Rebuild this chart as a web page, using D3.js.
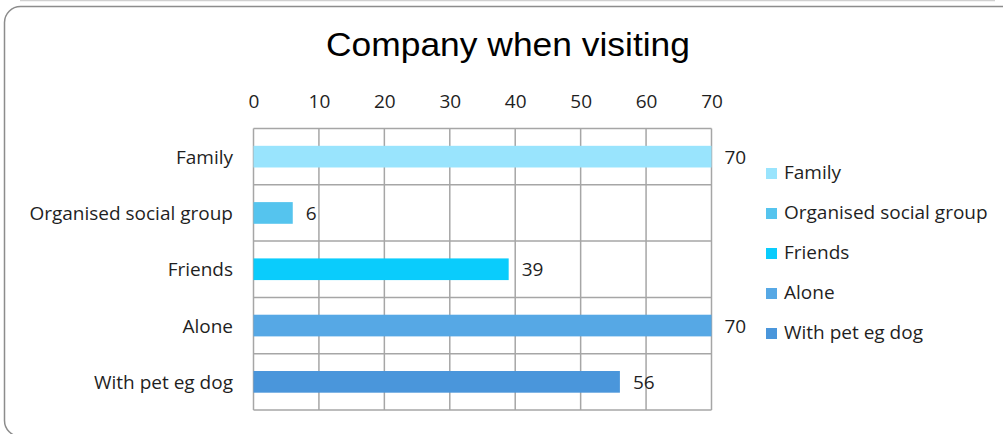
<!DOCTYPE html>
<html>
<head>
<meta charset="utf-8">
<script src="https://cdn.jsdelivr.net/npm/d3@7"></script>
<style>
  html, body { margin: 0; padding: 0; background: #fff; }
  svg { display: block; }
</style>
</head>
<body>
<script>
// Chart data
const categories = ["Family", "Organised social group", "Friends", "Alone", "With pet eg dog"];
const values = [70, 6, 39, 70, 56];
const colors = ["#99e4fd", "#55c4ee", "#0accfc", "#56a8e5", "#4a96db"];
const tickValues = [0, 10, 20, 30, 40, 50, 60, 70];
const title = "Company when visiting";

const W = 1003, H = 434;
const labelFont = "'Open Sans', 'Noto Sans', sans-serif";
const labelSize = 19;
const textColor = "#1f1f1f";

const svg = d3.select("body").append("svg")
  .attr("width", W).attr("height", H);

// Outer frame
svg.append("line")
  .attr("x1", 20).attr("x2", 995).attr("y1", 0.5).attr("y2", 0.5)
  .attr("stroke", "#d0d0d0").attr("stroke-width", 1.5);
svg.append("rect")
  .attr("x", 4.5).attr("y", 6.5).attr("width", 1015).attr("height", 430)
  .attr("rx", 16).attr("ry", 16)
  .attr("fill", "#fff").attr("stroke", "#8c8c8c").attr("stroke-width", 1.5);

// Title
svg.append("text")
  .attr("x", 508).attr("y", 56)
  .attr("text-anchor", "middle")
  .attr("font-family", "'Liberation Sans', Arial, sans-serif")
  .attr("font-size", 33)
  .attr("textLength", 364)
  .attr("lengthAdjust", "spacingAndGlyphs")
  .attr("fill", "#000")
  .text(title);

// Plot area
const plot = { left: 253.5, right: 711.5, top: 128.5, bottom: 410 };

const x = d3.scaleLinear().domain([0, 70]).range([plot.left, plot.right]);
const y = d3.scaleBand().domain(categories).range([plot.top, plot.bottom])
  .paddingInner(0).paddingOuter(0);
const barFrac = 0.385;

const g = svg.append("g");

// Horizontal row separators
const rowEdges = categories.map(c => y(c)).concat([plot.bottom]);
g.selectAll("line.row").data(rowEdges).join("line")
  .attr("class", "row")
  .attr("x1", plot.left).attr("x2", plot.right)
  .attr("y1", d => d).attr("y2", d => d)
  .attr("stroke", "#a6a6a6").attr("stroke-width", 1.5);

// Vertical gridlines
g.selectAll("line.col").data(tickValues).join("line")
  .attr("class", "col")
  .attr("x1", d => x(d)).attr("x2", d => x(d))
  .attr("y1", plot.top).attr("y2", plot.bottom)
  .attr("stroke", "#a6a6a6").attr("stroke-width", 1.5);

// Bars
const bw = y.bandwidth() * barFrac;
g.selectAll("rect.bar").data(categories).join("rect")
  .attr("class", "bar")
  .attr("x", x(0))
  .attr("y", d => y(d) + (y.bandwidth() - bw) / 2)
  .attr("width", (d, i) => x(values[i]) - x(0))
  .attr("height", bw)
  .attr("fill", (d, i) => colors[i]);

// Value labels
g.selectAll("text.val").data(categories).join("text")
  .attr("class", "val")
  .attr("x", (d, i) => x(values[i]) + 13)
  .attr("y", d => y(d) + y.bandwidth() / 2 + 7)
  .attr("font-family", labelFont).attr("font-size", labelSize)
  .attr("fill", textColor)
  .text((d, i) => values[i]);

// Top axis
const xAxis = d3.axisTop(x).tickValues(tickValues).tickSize(0).tickPadding(0);
const ax = svg.append("g")
  .attr("transform", `translate(0, 108)`)
  .call(xAxis);
ax.select(".domain").remove();
ax.selectAll("text")
  .attr("font-family", labelFont).attr("font-size", labelSize)
  .attr("fill", textColor).attr("dy", 0);

// Category axis
const yAxis = d3.axisLeft(y).tickSize(0).tickPadding(0);
const ay = svg.append("g")
  .attr("transform", `translate(233, 0)`)
  .call(yAxis);
ay.select(".domain").remove();
ay.selectAll("text")
  .attr("font-family", labelFont).attr("font-size", labelSize)
  .attr("fill", textColor).attr("dy", 7);

// Legend
const legend = svg.append("g").attr("transform", "translate(766, 0)");
const items = legend.selectAll("g").data(categories).join("g")
  .attr("transform", (d, i) => `translate(0, ${179 + i * 40})`);
items.append("rect")
  .attr("x", 0).attr("y", -11).attr("width", 11).attr("height", 11)
  .attr("fill", (d, i) => colors[i]);
items.append("text")
  .attr("x", 18).attr("y", 0)
  .attr("font-family", labelFont).attr("font-size", labelSize)
  .attr("fill", textColor)
  .text(d => d);
</script>
</body>
</html>
